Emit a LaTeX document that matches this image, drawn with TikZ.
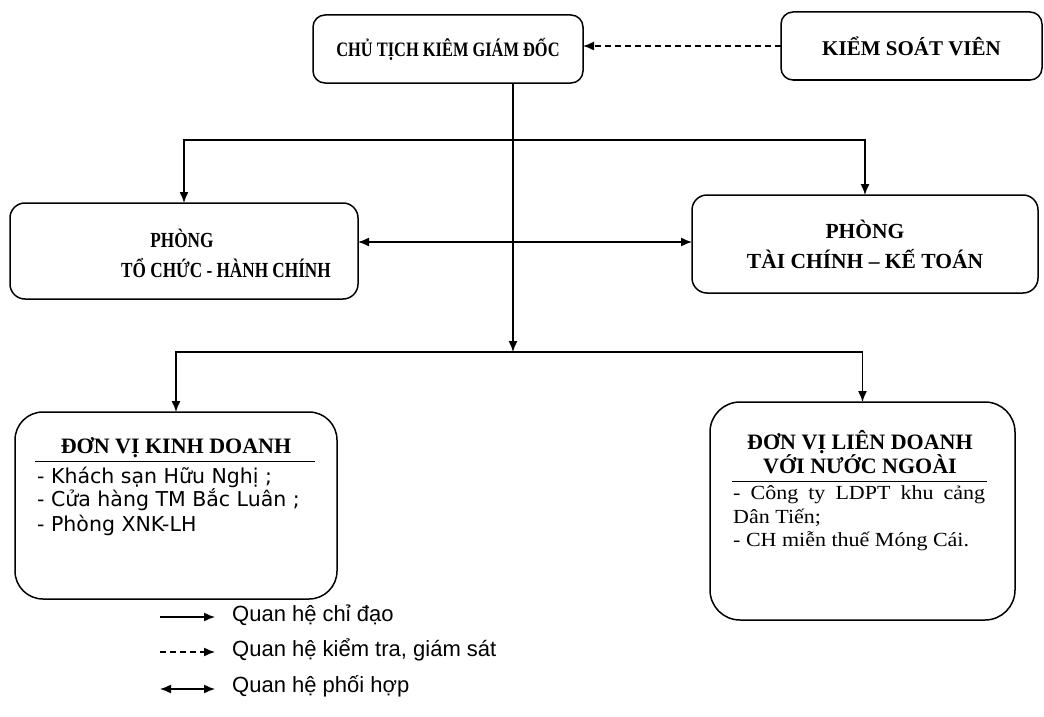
\documentclass[tikz,border=0pt]{standalone}
\usepackage{fontspec}
\setmainfont{Liberation Serif}
\newfontfamily\narrowrm[FakeStretch=0.8]{Liberation Serif}
\newfontfamily\itemsf{DejaVu Sans}
\newfontfamily\itemrm[FakeStretch=1.1]{Liberation Serif}
\newfontfamily\legendsf{Liberation Sans}
\usetikzlibrary{arrows.meta}
\newcommand{\sz}[2]{\fontsize{#1}{#2}\selectfont}
\tikzset{
  >={Latex[length=11pt,width=9pt]},
  orgbox/.style={draw,line width=1.5pt,rounded corners=12pt,inner sep=0pt,outer sep=0pt,align=center},
  link/.style={line width=1.4pt},
  checklink/.style={link,dash pattern=on 6pt off 4pt},
  itemtext/.style={anchor=west,inner sep=0pt}
}
\begin{document}
\begin{tikzpicture}[x=1pt,y=-1pt]
\useasboundingbox (0,0) rectangle (1044,717);
%
\node[orgbox,minimum width=270pt,minimum height=68pt,font=\narrowrm\sz{20.5}{22}\bfseries](ct) at (448,49) {CHỦ TỊCH KIÊM GIÁM ĐỐC};
\node[orgbox,minimum width=261pt,minimum height=68pt,font=\sz{21}{23}\bfseries](ksv) at (911.5,46) {KIỂM SOÁT VIÊN};
\draw[checklink,->](ksv.west) -- (ksv.west -| ct.east) {};
%
\node[orgbox,rounded corners=15pt,minimum width=348pt,minimum height=96pt](tchc) at (184,251) {};
\node[font=\narrowrm\sz{21.5}{24}\bfseries](tchc1) at (182,238) {PHÒNG};
\node[font=\narrowrm\sz{21.5}{24}\bfseries](tchc2) at (226,268) {TỔ CHỨC - HÀNH CHÍNH};
\node[orgbox,rounded corners=15pt,minimum width=346pt,minimum height=98pt,font=\sz{21.5}{30}\bfseries](tckt) at (865,244) {PHÒNG\\TÀI CHÍNH – KẾ TOÁN};
%
\coordinate(fork) at (513,140);
\coordinate(split) at (513,352);
\draw[link,->](ct.south -| split) -- (split) {};
\draw[link,->](fork) -| (tchc.north) {};
\draw[link,->](fork) -| (tckt.north) {};
\draw[link,<->]([yshift=9pt]tchc.east) -- ([yshift=9pt]tchc.east -| tckt.west) {};
%
\node[orgbox,rounded corners=28pt,minimum width=322pt,minimum height=187pt](dvkd) at (176,505.5) {};
\node[orgbox,rounded corners=30pt,minimum width=305pt,minimum height=218pt](dvld) at (862.5,511) {};
\draw[link,->](split) -| (dvkd.north) {};
\draw[link,->](split) -| (dvld.north) {};
%
\node[font=\sz{22}{24}\bfseries](kdtitle) at (176,448) {ĐƠN VỊ KINH DOANH};
\draw[line width=1pt](35,461) -- (315,461);
\node[itemtext,font=\itemsf\sz{20.5}{22}](kd1) at (37,477) {- Khách sạn Hữu Nghị ;};
\node[itemtext,font=\itemsf\sz{20.5}{22}](kd2) at (37,500) {- Cửa hàng TM Bắc Luân ;};
\node[itemtext,font=\itemsf\sz{20.5}{22}](kd3) at (37,525) {- Phòng XNK-LH};
%
\node[align=center,font=\sz{22}{24}\bfseries](ldtitle) at (860,452) {ĐƠN VỊ LIÊN DOANH\\VỚI NƯỚC NGOÀI};
\draw[line width=1pt](732,481) -- (987,481);
\node[itemtext,font=\itemrm\sz{20}{22}](ld1) at (733,495) {\makebox[252pt][s]{- Công ty LDPT khu cảng}};
\node[itemtext,font=\itemrm\sz{20}{22}](ld2) at (733,518) {Dân Tiến;};
\node[itemtext,font=\itemrm\sz{20}{22}](ld3) at (733,541) {- CH miễn thuế Móng Cái.};
%
\coordinate(k1a) at (160,617);
\coordinate(k1b) at (215,617);
\draw[link,->](k1a) -- (k1b) {};
\node[itemtext,font=\legendsf\sz{22}{24}](k1) at (232,615) {Quan hệ chỉ đạo};
\coordinate(k2a) at (160,652);
\coordinate(k2b) at (215,652);
\draw[checklink,->](k2a) -- (k2b) {};
\node[itemtext,font=\legendsf\sz{22}{24}](k2) at (232,650) {Quan hệ kiểm tra, giám sát};
\coordinate(k3a) at (160,689);
\coordinate(k3b) at (215,689);
\draw[link,<->](k3a) -- (k3b) {};
\node[itemtext,font=\legendsf\sz{22}{24}](k3) at (232,686) {Quan hệ phối hợp};
\end{tikzpicture}
\end{document}
